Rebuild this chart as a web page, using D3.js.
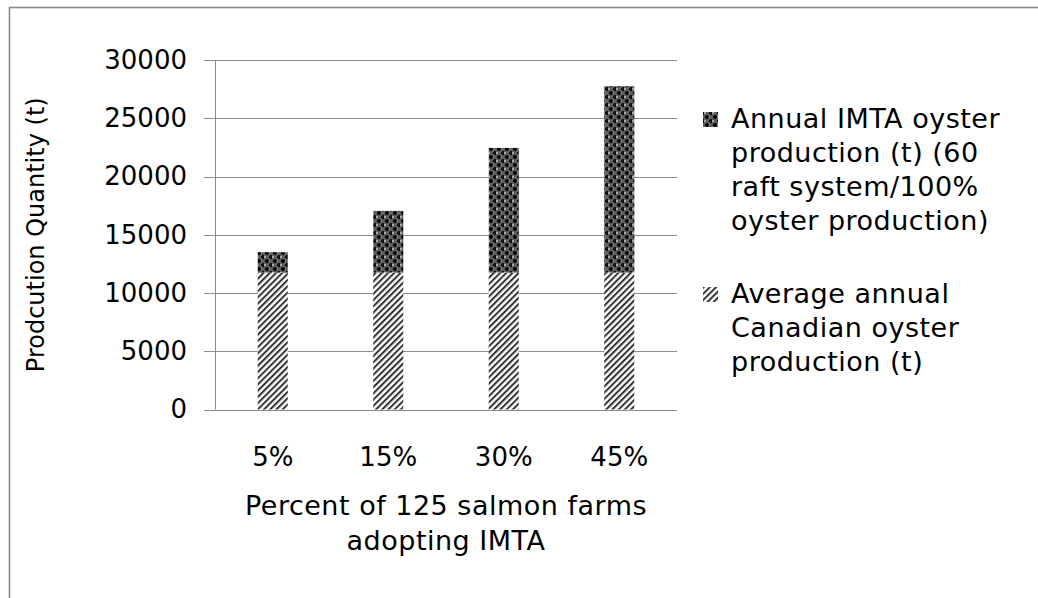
<!DOCTYPE html>
<html>
<head>
<meta charset="utf-8">
<script src="https://cdn.jsdelivr.net/npm/d3@7"></script>
<style>
  html, body { margin: 0; padding: 0; background: #fff; }
  svg { display: block; }
  text { font-family: "DejaVu Sans", Verdana, sans-serif; fill: #000; }
</style>
</head>
<body>
<svg id="chart" width="1038" height="598"></svg>
<script>
// Scenario categories (share of the 125 salmon farms adopting IMTA)
const categories = ["5%", "15%", "30%", "45%"];
// Average annual Canadian oyster production (t), same for every scenario
const canadianProduction = [11750, 11750, 11750, 11750];
// Additional annual IMTA oyster production (t) stacked on top
const imtaProduction = [1750, 5300, 10700, 16000];
// Y axis ticks
const yTicks = [0, 5000, 10000, 15000, 20000, 25000, 30000];

const seriesNames = ["canadian", "imta"];
const legendLines = {
  imta: ["Annual IMTA oyster", "production (t) (60", "raft system/100%", "oyster production)"],
  canadian: ["Average annual", "Canadian oyster", "production (t)"]
};

const svg = d3.select("#chart");

// Fill patterns
const defs = svg.append("defs");
const hatch = defs.append("pattern")
  .attr("id", "hatch").attr("patternUnits", "userSpaceOnUse")
  .attr("width", 4.4).attr("height", 4.4)
  .attr("patternTransform", "rotate(45)");
hatch.append("rect").attr("width", 4.4).attr("height", 4.4).attr("fill", "#fff");
hatch.append("rect").attr("x", 0).attr("width", 2).attr("height", 4.4).attr("fill", "#333");

const grid = defs.append("pattern")
  .attr("id", "cross").attr("patternUnits", "userSpaceOnUse")
  .attr("width", 8).attr("height", 8);
grid.append("rect").attr("width", 8).attr("height", 8).attr("fill", "#5e5e5e");
grid.append("rect").attr("x", 0).attr("y", 0).attr("width", 2).attr("height", 2).attr("fill", "#a4a4a4");
grid.append("rect").attr("x", 4).attr("y", 4).attr("width", 2).attr("height", 2).attr("fill", "#8a8a8a");
grid.append("rect").attr("x", 1).attr("y", 4).attr("width", 4).attr("height", 2).attr("fill", "#000");
grid.append("rect").attr("x", 2).attr("y", 3).attr("width", 2).attr("height", 4).attr("fill", "#000");
grid.append("rect").attr("x", 5).attr("y", 0).attr("width", 4).attr("height", 2).attr("fill", "#111");
grid.append("rect").attr("x", 6).attr("y", -1).attr("width", 2).attr("height", 4).attr("fill", "#111");
grid.append("rect").attr("x", 6).attr("y", 7).attr("width", 2).attr("height", 2).attr("fill", "#111");

const fills = { canadian: "url(#hatch)", imta: "url(#cross)" };

// Outer frame (top and left edges visible)
svg.append("rect")
  .attr("x", 9.5).attr("y", 7.5).attr("width", 1100).attr("height", 700)
  .attr("fill", "none").attr("stroke", "#8a8a8a").attr("stroke-width", 1.6);

const plot = { left: 215, right: 677, top: 60, bottom: 409.5 };

const x = d3.scaleBand().domain(categories)
  .range([plot.left, plot.right]).paddingInner(0.74).paddingOuter(0.37);
const y = d3.scaleLinear().domain([0, 30000]).range([plot.bottom, plot.top]);

// Gridlines
svg.append("g").selectAll("line").data(yTicks).join("line")
  .attr("x1", plot.left - 11).attr("x2", plot.right)
  .attr("y1", d => Math.round(y(d)) + 0.5).attr("y2", d => Math.round(y(d)) + 0.5)
  .attr("stroke", "#8c8c8c").attr("stroke-width", 1);

// Y axis line
svg.append("line")
  .attr("x1", plot.left + 0.5).attr("x2", plot.left + 0.5)
  .attr("y1", plot.top).attr("y2", plot.bottom)
  .attr("stroke", "#8c8c8c").attr("stroke-width", 1);

// Y tick labels via d3 axis
const yAxis = svg.append("g")
  .attr("transform", `translate(${plot.left - 28},0)`)
  .call(d3.axisLeft(y).tickValues(yTicks).tickSize(0).tickPadding(0).tickFormat(d3.format("d")));
yAxis.select(".domain").remove();
yAxis.selectAll("text").attr("font-size", 26).attr("font-family", "DejaVu Sans").attr("fill", "#000");

// Stacked bars
const rows = categories.map((c, i) => ({ cat: c, canadian: canadianProduction[i], imta: imtaProduction[i] }));
const stacked = d3.stack().keys(seriesNames)(rows);
svg.append("g").selectAll("g").data(stacked).join("g")
  .attr("fill", d => fills[d.key])
  .selectAll("rect").data(d => d).join("rect")
  .attr("x", d => x(d.data.cat))
  .attr("width", x.bandwidth())
  .attr("y", d => y(d[1]))
  .attr("height", d => y(d[0]) - y(d[1]));

// X tick labels
const xAxis = svg.append("g")
  .attr("transform", `translate(0,${plot.bottom + 38})`)
  .call(d3.axisBottom(x).tickSize(0).tickPadding(0));
xAxis.select(".domain").remove();
xAxis.selectAll("text").attr("font-size", 26).attr("font-family", "DejaVu Sans").attr("fill", "#000")
  .attr("dy", "0.71em");

// Axis titles
svg.append("text")
  .attr("transform", `translate(44,${(plot.top + plot.bottom) / 2}) rotate(-90)`)
  .attr("text-anchor", "middle").attr("font-size", 24)
  .text("Prodcution Quantity (t)");

const xTitle = svg.append("text").attr("text-anchor", "middle")
  .attr("font-size", 27).attr("letter-spacing", 0.5);
["Percent of 125 salmon farms", "adopting IMTA"].forEach((t, i) => {
  xTitle.append("tspan").attr("x", (plot.left + plot.right) / 2).attr("y", 515 + i * 35).text(t);
});

// Legend
const legendEntries = [
  { key: "imta", top: 128 },
  { key: "canadian", top: 303 }
];
const lg = svg.append("g");
legendEntries.forEach(e => {
  lg.append("rect").attr("x", 703).attr("y", e.top - 16).attr("width", 15).attr("height", 15)
    .attr("fill", fills[e.key]);
  const t = lg.append("text").attr("font-size", 27).attr("letter-spacing", 0.5);
  legendLines[e.key].forEach((line, i) => {
    t.append("tspan").attr("x", 731).attr("y", e.top + i * 34).text(line);
  });
});
</script>
</body>
</html>
